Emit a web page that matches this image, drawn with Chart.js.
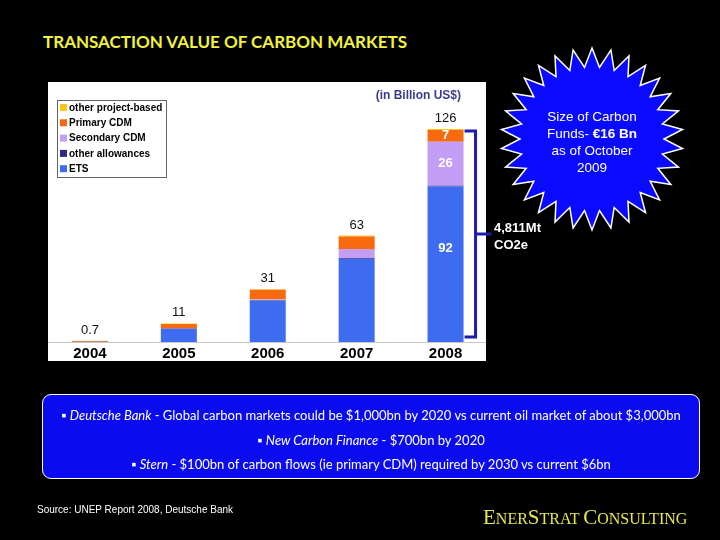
<!DOCTYPE html>
<html>
<head>
<meta charset="utf-8">
<script src="https://cdn.jsdelivr.net/npm/chart.js@4"></script>
<style>
  html, body { margin: 0; padding: 0; background: #000; width: 720px; height: 540px; overflow: hidden; }
  #title { position: absolute; left: 43px; top: 31px; color: #f2f23c; font: 700 17px Lato, sans-serif; white-space: nowrap; }
  #wrap { position: absolute; left: 40px; top: 82px; width: 455px; height: 280px; }
  #star { position: absolute; left: 0; top: 0; }
  #starText { position: absolute; left: 527px; top: 108px; width: 130px; text-align: center; color: #fff; font: 13.5px "Liberation Sans", Arial, sans-serif; line-height: 17px; }
  #mt { position: absolute; left: 494px; top: 219px; color: #fff; font: bold 13px "Liberation Sans", Arial, sans-serif; line-height: 17px; }
  #box { position: absolute; left: 42px; top: 394px; width: 656px; height: 83px; background: #0b0bf0; border: 1.5px solid #fff; border-radius: 9px; color: #fff; font: 13px Lato, sans-serif; }
  #box div { position: absolute; left: 0; right: 0; text-align: center; white-space: nowrap; line-height: 16px; }
  #src { position: absolute; left: 37px; top: 504px; color: #fff; font: 10px "Liberation Sans", Arial, sans-serif; }
  #brand { position: absolute; left: 483px; top: 505px; color: #e6e64c; font: 16px "Liberation Serif", serif; white-space: nowrap; }
  #brand span { font-size: 21px; }
</style>
</head>
<body>
<div id="title">TRANSACTION VALUE OF CARBON MARKETS</div>
<div id="wrap"><canvas id="chart" width="455" height="280"></canvas></div>
<svg id="star" width="720" height="540"><polygon id="burst" fill="#0a0aff" stroke="#fff" stroke-width="1.5"/></svg>
<div id="starText">Size of Carbon<br>Funds- <b>€16 Bn</b><br>as of October<br>2009</div>
<div id="mt">4,811Mt<br>CO2e</div>
<div id="box">
  <div style="top:12px">▪ <i>Deutsche Bank</i> - Global carbon markets could be $1,000bn by 2020 vs current oil market of about $3,000bn</div>
  <div style="top:37px">▪ <i>New Carbon Finance</i> - $700bn by 2020</div>
  <div style="top:61px">▪ <i>Stern</i> - $100bn of carbon flows (ie primary CDM) required by 2030 vs current $6bn</div>
</div>
<div id="src">Source: UNEP Report 2008, Deutsche Bank</div>
<div id="brand"><span>E</span>NER<span>S</span>TRAT <span>C</span>ONSULTING</div>
<script>
const years = ['2004', '2005', '2006', '2007', '2008']
const ets = [0.1, 7.9, 24.4, 49.1, 92]
const otherAllowances = [0, 0.1, 0.3, 0.4, 0.5]
const secondaryCdm = [0, 0, 0.4, 5.5, 26]
const primaryCdm = [0.5, 2.6, 5.8, 7.4, 7]
const otherProject = [0.1, 0.4, 0.3, 0.6, 0.5]

// starburst behind the funds text
const burst = document.querySelector('#burst')
let pts = ''
for (let i = 0; i < 60; i++) {
    const a = -Math.PI / 2 + i * Math.PI / 30
    const r = i % 2 === 0 ? 91 : 72
    pts += (592 + r * Math.cos(a)).toFixed(1) + ',' + (139 + r * Math.sin(a)).toFixed(1) + ' '
}
burst.setAttribute('points', pts)

const panelPlugin = {
    id: 'panel',
    beforeDraw: (chart) => {
        const ctx = chart.ctx
        ctx.save()
        ctx.fillStyle = '#fff'
        ctx.fillRect(8, 0, 438, 279)
        // baseline only across the white panel
        const base = chart.scales.y.getPixelForValue(0)
        ctx.strokeStyle = '#c8c8c8'
        ctx.lineWidth = 1
        ctx.beginPath()
        ctx.moveTo(8, base + 0.5)
        ctx.lineTo(446, base + 0.5)
        ctx.stroke()
        ctx.restore()
    },
    afterDraw: (chart) => {
        const ctx = chart.ctx
        const y = chart.scales.y
        const sets = chart.data.datasets
        const topMeta = chart.getDatasetMeta(sets.length - 1)
        ctx.save()

        // unit note
        ctx.font = 'bold 12px "Liberation Sans", Arial'
        ctx.fillStyle = '#3c3c8c'
        ctx.textAlign = 'right'
        ctx.textBaseline = 'middle'
        ctx.fillText('(in Billion US$)', 421, 14)

        // totals above bars
        ctx.font = '13px "Liberation Sans", Arial'
        ctx.fillStyle = '#111'
        ctx.textAlign = 'center'
        ctx.textBaseline = 'bottom'
        years.forEach((yr, i) => {
            const total = sets.reduce((s, d) => s + d.data[i], 0)
            const txt = total < 1 ? total.toFixed(1) : Math.round(total).toString()
            ctx.fillText(txt, topMeta.data[i].x, topMeta.data[i].y - 4)
        })

        // segment values in the 2008 bar
        const last = years.length - 1
        ctx.font = 'bold 13px "Liberation Sans", Arial'
        ctx.fillStyle = '#fff'
        ctx.textBaseline = 'middle'
        ;[0, 2, 3].forEach(k => {
            const el = chart.getDatasetMeta(k).data[last]
            const v = sets[k].data[last]
            let cy = (el.y + el.base) / 2
            if (k === 0) cy = y.getPixelForValue(v * 0.6)
            ctx.fillText(String(v), el.x, cy)
        })

        // bracket next to 2008
        const el = topMeta.data[last]
        const right = el.x + el.width / 2
        const top = el.y + 2
        const bottom = y.getPixelForValue(0) - 5
        const mid = (top + bottom) / 2
        ctx.strokeStyle = '#1d1dab'
        ctx.lineWidth = 3
        ctx.beginPath()
        ctx.moveTo(right + 1, top)
        ctx.lineTo(right + 12, top)
        ctx.lineTo(right + 12, bottom)
        ctx.lineTo(right + 1, bottom)
        ctx.moveTo(right + 12, mid)
        ctx.lineTo(right + 28, mid)
        ctx.stroke()

        // legend box
        const lx = 17, ly = 18
        ctx.strokeStyle = '#666'
        ctx.lineWidth = 1
        ctx.strokeRect(lx + 0.5, ly + 0.5, 109, 77)
        ctx.font = 'bold 10px "Liberation Sans", Arial'
        ctx.textAlign = 'left'
        sets.slice().reverse().forEach((d, j) => {
            const cy = ly + 7.5 + j * 15.3
            ctx.fillStyle = d.backgroundColor
            ctx.fillRect(lx + 3, cy - 3.5, 7, 7)
            ctx.fillStyle = '#000'
            ctx.fillText(d.label, lx + 12, cy + 0.5)
        })
        ctx.restore()
    }
}

const ctx = document.querySelector('#chart')
const chart = new Chart(ctx, {
    type: 'bar',
    data: {
        labels: years,
        datasets: [
            { label: 'ETS', data: ets, backgroundColor: '#3d6cf0' },
            { label: 'other allowances', data: otherAllowances, backgroundColor: '#2b2b86' },
            { label: 'Secondary CDM', data: secondaryCdm, backgroundColor: '#c49df4' },
            { label: 'Primary CDM', data: primaryCdm, backgroundColor: '#f76a0e' },
            { label: 'other project-based', data: otherProject, backgroundColor: '#f8c818' }
        ]
    },
    options: {
        responsive: false,
        animation: false,
        devicePixelRatio: 1,
        barPercentage: 0.405,
        categoryPercentage: 1,
        layout: { padding: { left: 5.5, right: 5, top: 15, bottom: 0 } },
        plugins: { legend: { display: false }, tooltip: { enabled: false } },
        scales: {
            x: {
                stacked: true,
                grid: { display: false, drawTicks: false },
                border: { display: false },
                ticks: { color: '#000', font: { family: '"Liberation Sans", Arial', size: 15, weight: 'bold' }, padding: 3 },
                afterFit: (s) => { s.height = 20 }
            },
            y: { stacked: true, display: false, min: 0, max: 145 }
        }
    },
    plugins: [panelPlugin]
})
</script>
</body>
</html>
